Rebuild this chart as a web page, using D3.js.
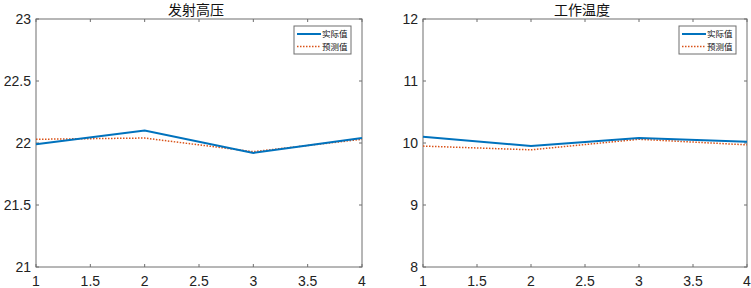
<!DOCTYPE html>
<html>
<head>
<meta charset="utf-8">
<script src="https://cdn.jsdelivr.net/npm/d3@7"></script>
<style>
  body { margin: 0; background: #fff; }
  svg { display: block; font-family: "Liberation Sans", Arial, sans-serif; }
</style>
</head>
<body>
<div id="chart"></div>
<script>
// 数据
const xVals = [1, 2, 3, 4];
const xTicks = [1, 1.5, 2, 2.5, 3, 3.5, 4];

const titles = ['发射高压', '工作温度'];
const seriesNames = ['实际值', '预测值'];

const hvActual = [21.99, 22.10, 21.92, 22.04];
const hvPred = [22.03, 22.04, 21.93, 22.03];
const hvTicks = [21, 21.5, 22, 22.5, 23];

const tempActual = [10.10, 9.95, 10.08, 10.02];
const tempPred = [9.95, 9.89, 10.06, 9.97];
const tempTicks = [8, 9, 10, 11, 12];

const W = 751, H = 288;
const svg = d3.select('#chart').append('svg')
  .attr('width', W).attr('height', H);

const panels = [
  { left: 36, right: 362, title: titles[0], actual: hvActual, pred: hvPred, yTicks: hvTicks },
  { left: 423, right: 747, title: titles[1], actual: tempActual, pred: tempPred, yTicks: tempTicks }
];
const plotTop = 19, plotBottom = 267;
const axisColor = '#6e6e6e';
const colors = ['#0072BD', '#D95319'];

panels.forEach(p => {
  const x = d3.scaleLinear().domain([1, 4]).range([p.left, p.right]);
  const y = d3.scaleLinear().domain(d3.extent(p.yTicks)).range([plotBottom, plotTop]);
  const g = svg.append('g');

  // 框
  g.append('rect')
    .attr('x', p.left).attr('y', plotTop)
    .attr('width', p.right - p.left).attr('height', plotBottom - plotTop)
    .attr('fill', 'none').attr('stroke', axisColor).attr('stroke-width', 1);

  // 刻度 (向内)
  const tk = 3;
  xTicks.forEach(t => {
    g.append('line').attr('x1', x(t)).attr('x2', x(t)).attr('y1', plotBottom).attr('y2', plotBottom - tk)
      .attr('stroke', axisColor);
    g.append('line').attr('x1', x(t)).attr('x2', x(t)).attr('y1', plotTop).attr('y2', plotTop + tk)
      .attr('stroke', axisColor);
    g.append('text').attr('x', x(t)).attr('y', plotBottom + 19)
      .attr('text-anchor', 'middle').attr('font-size', 14).attr('fill', '#222')
      .text(t);
  });
  p.yTicks.forEach(t => {
    g.append('line').attr('x1', p.left).attr('x2', p.left + tk).attr('y1', y(t)).attr('y2', y(t))
      .attr('stroke', axisColor);
    g.append('line').attr('x1', p.right).attr('x2', p.right - tk).attr('y1', y(t)).attr('y2', y(t))
      .attr('stroke', axisColor);
    g.append('text').attr('x', p.left - 5).attr('y', y(t) + 5)
      .attr('text-anchor', 'end').attr('font-size', 14).attr('fill', '#222')
      .text(t);
  });

  // 标题
  g.append('text').attr('x', (p.left + p.right) / 2 - 3).attr('y', 15)
    .attr('text-anchor', 'middle').attr('font-size', 14)
    .attr('font-family', '"Noto Sans CJK SC", sans-serif').attr('fill', '#111')
    .text(p.title);

  const line = d3.line().x((d, i) => x(xVals[i])).y(d => y(d));

  g.append('path').datum(p.pred).attr('d', line)
    .attr('fill', 'none').attr('stroke', colors[1]).attr('stroke-width', 1.5)
    .attr('stroke-dasharray', '1.5,1.5');
  g.append('path').datum(p.actual).attr('d', line)
    .attr('fill', 'none').attr('stroke', colors[0]).attr('stroke-width', 2);

  // 图例
  const lx = p.right - 68, ly = 26;
  const rowH = 12.5;
  const leg = g.append('g');
  leg.append('rect').attr('x', lx).attr('y', ly).attr('width', 57).attr('height', 28)
    .attr('fill', '#fff').attr('stroke', axisColor).attr('stroke-width', 1);
  seriesNames.forEach((name, i) => {
    const yy = ly + 8 + i * rowH;
    leg.append('line').attr('x1', lx + 3).attr('x2', lx + 27).attr('y1', yy).attr('y2', yy)
      .attr('stroke', colors[i]).attr('stroke-width', i === 0 ? 2 : 1.5)
      .attr('stroke-dasharray', i === 0 ? null : '1.5,1.5');
    leg.append('text').attr('x', lx + 28).attr('y', yy + 3.2)
      .attr('font-size', 8.5).attr('font-family', '"Noto Sans CJK SC", sans-serif')
      .attr('fill', '#111').text(name);
  });
});
</script>
</body>
</html>
